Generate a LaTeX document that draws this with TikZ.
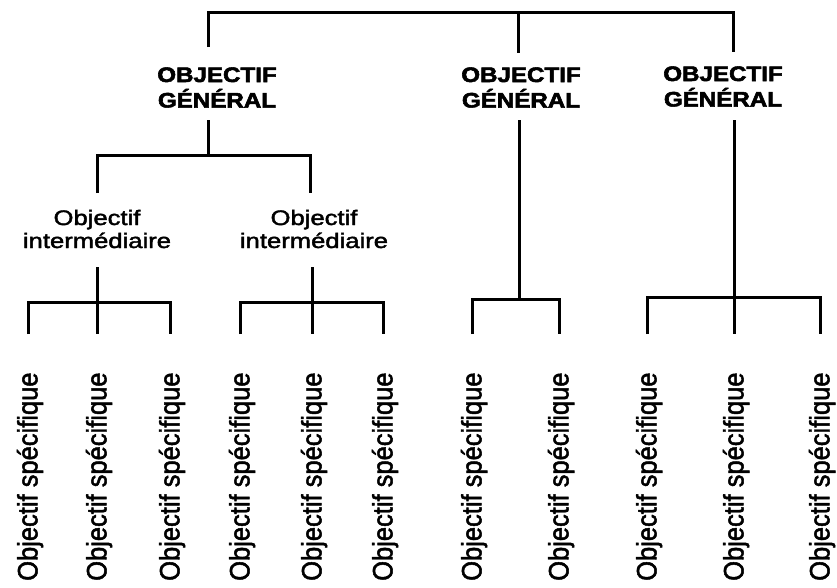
\documentclass[tikz,border=0pt]{standalone}
\usepackage{graphicx}
\usepackage{fontspec}
\setmainfont{Liberation Sans}
% heavier faces, as printed
\newfontfamily\inkfont{Liberation Sans}[FakeBold=1.8]
\newfontfamily\inkboldfont{Liberation Sans Bold}[FakeBold=2.5]

% a stack of centred lines, widened horizontally
\newcommand\widestack[2]{\scalebox{#1}[1]{\begin{tabular}[t]{@{}c@{}}#2\end{tabular}}}

\begin{document}
\begin{tikzpicture}[x=1pt,y=1pt,
  wire/.style={line width=3pt, line join=miter},
  genlabel/.style={anchor=base, inner sep=0pt, font=\inkboldfont\fontsize{21}{23}\selectfont},
  midlabel/.style={anchor=base, inner sep=0pt, font=\inkfont\fontsize{21}{23}\selectfont},
  leaflabel/.style={anchor=south, inner sep=0pt, font=\inkfont\fontsize{25.5}{26}\selectfont}]
\useasboundingbox (0,0) rectangle (837,-587);

% general objectives
\node[genlabel] (g1) at (217,-82) {\widestack{1.15}{OBJECTIF\\GÉNÉRAL}};
\node[genlabel] (g2) at (521,-82) {\widestack{1.15}{OBJECTIF\\GÉNÉRAL}};
\node[genlabel] (g3) at (723,-81) {\widestack{1.15}{OBJECTIF\\GÉNÉRAL}};

% intermediate objectives
\node[midlabel] (m1) at (97,-225) {\widestack{1.22}{Objectif\\intermédiaire}};
\node[midlabel] (m2) at (314,-225) {\widestack{1.22}{Objectif\\intermédiaire}};

% specific objectives (rotated labels) and the tops of their drops
\foreach \x [count=\i] in {28,97,170,240,312,383,472,559,647,734,820} {
  \coordinate (s\i) at (\x,-334);
  \node[leaflabel] (o\i) at (\x+2,-581)
    {\scalebox{1.1}[1]{\rotatebox{90}{Objectif spécifique}}};
}

% junction points
\coordinate (topM) at (518,-12);
\coordinate (topR) at (733,-12);
\coordinate (g1in) at (208,-47);
\coordinate (g2in) at (518,-53);
\coordinate (g3in) at (733,-52);
\coordinate (g1out) at (208,-120);
\coordinate (g2out) at (519,-120);
\coordinate (g3out) at (734,-120);
\coordinate (b1) at (208,-155);
\coordinate (m1in) at (97,-193);
\coordinate (m2in) at (310,-193);
\coordinate (m1out) at (97,-267);
\coordinate (m2out) at (312,-267);
\coordinate (h1) at (97,-302);
\coordinate (h2) at (312,-302);
\coordinate (h3) at (519,-299);
\coordinate (h4) at (734,-297);

% top bracket joining the general objectives
\draw[wire] (g1in) |- (topR) -- (g3in);
\draw[wire] (topM) -- (g2in);

% first general objective to its intermediate objectives
\draw[wire] (g1out) -- (b1);
\draw[wire] (m1in) |- (b1) -| (m2in);

% intermediate objectives to their specific objectives
\draw[wire] (m1out) -- (s2);
\draw[wire] (s1) |- (h1) -| (s3);
\draw[wire] (m2out) -- (s5);
\draw[wire] (s4) |- (h2) -| (s6);

% second and third general objectives to their specific objectives
\draw[wire] (g2out) -- (h3);
\draw[wire] (s7) |- (h3) -| (s8);
\draw[wire] (g3out) -- (s10);
\draw[wire] (s9) |- (h4) -| (s11);
\end{tikzpicture}
\end{document}
